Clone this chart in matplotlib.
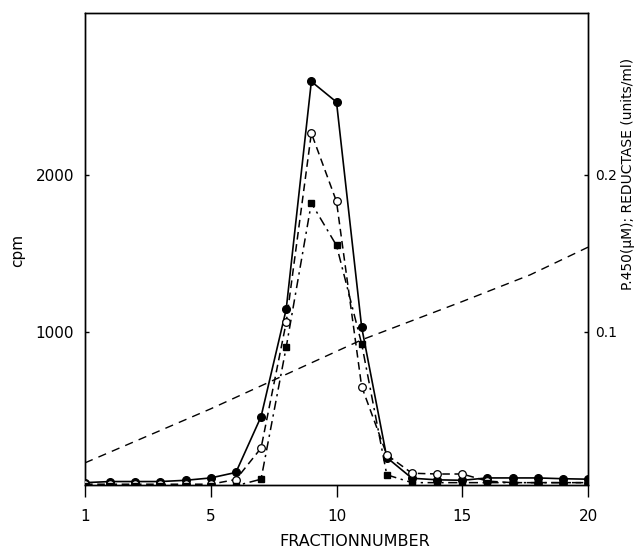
import matplotlib
matplotlib.use("Agg")
import matplotlib.pyplot as plt

plt.rcParams['font.family'] = ['DejaVu Sans']

fractions = list(range(0, 21))
tick_pos = [0, 5, 10, 15, 20]
tick_labels = ["1", "5", "10", "15", "20"]

cpm = [40, 47, 47, 47, 55, 70, 105, 460, 1144, 2594, 2463, 1030, 200,
       68, 58, 55, 70, 70, 70, 65, 62]
p450 = [0.003, 0.003, 0.003, 0.003, 0.003, 0.003, 0.006, 0.026, 0.106, 0.2265,
        0.183, 0.0652, 0.0217, 0.010, 0.0095, 0.0095, 0.005, 0.004, 0.004,
        0.004, 0.004]
reductase = [0.002, 0.002, 0.002, 0.002, 0.002, 0.002, 0.002, 0.0062, 0.0902,
             0.182, 0.155, 0.0924, 0.009, 0.004, 0.004, 0.004, 0.004, 0.004,
             0.004, 0.004, 0.004]
grad_x = [0, 5, 11, 15, 17.7, 20]
grad_y = [0.0166, 0.051, 0.0949, 0.1193, 0.1363, 0.1539]

fig = plt.figure(figsize=(6.38, 5.51), dpi=100)
ax = fig.add_axes([85/638, 66/551, 503/638, 472/551])
ax2 = ax.twinx()

ax.plot(fractions, cpm, '-', color='black', lw=1.2, marker='o',
        markersize=5.5, markerfacecolor='black', zorder=3)
ax2.plot(fractions, p450, linestyle=(0, (5, 3)), color='black', lw=1.1,
         marker='o', markersize=5.5, markerfacecolor='white',
         markeredgecolor='black', markeredgewidth=0.9, zorder=3)
ax2.plot(fractions, reductase, linestyle=(0, (6, 3, 1.5, 3)), color='black',
         lw=1.1, marker='s', markersize=4.5, markerfacecolor='black', zorder=3)
ax2.plot(grad_x, grad_y, linestyle=(0, (6, 4.5)), color='black', lw=1.0)

ax.set_xlim(0, 20)
ax.set_ylim(25, 3030)
ax2.set_ylim(0.0025, 0.303)

ax.set_xticks(tick_pos)
ax.set_xticklabels(tick_labels)
ax.set_yticks([1000, 2000])
ax2.set_yticks([0.1, 0.2])
ax2.set_yticklabels(["0.1", "0.2"])

ax.tick_params(axis='x', direction='out', length=8.6, width=1.0,
               pad=9, labelsize=11)
ax.tick_params(axis='y', direction='in', length=3, width=1.0, pad=8,
               labelsize=11)
ax2.tick_params(axis='y', direction='in', length=3, width=1.0, pad=5,
                labelsize=10)

for sp in list(ax.spines.values()) + list(ax2.spines.values()):
    sp.set_linewidth(1.0)

fig.text(355/638, 5/551, "FRACTIONNUMBER", fontsize=11.5,
         ha='center', va='baseline')
ax.set_ylabel("cpm", fontsize=11)
ax.yaxis.set_label_coords(-0.12, 0.498)
ax2.set_ylabel("P.450(\u00b5M); REDUCTASE (units/ml)", fontsize=10)
ax2.yaxis.set_label_coords(1.066, 0.66)

fig.savefig("out.png", dpi=100)
